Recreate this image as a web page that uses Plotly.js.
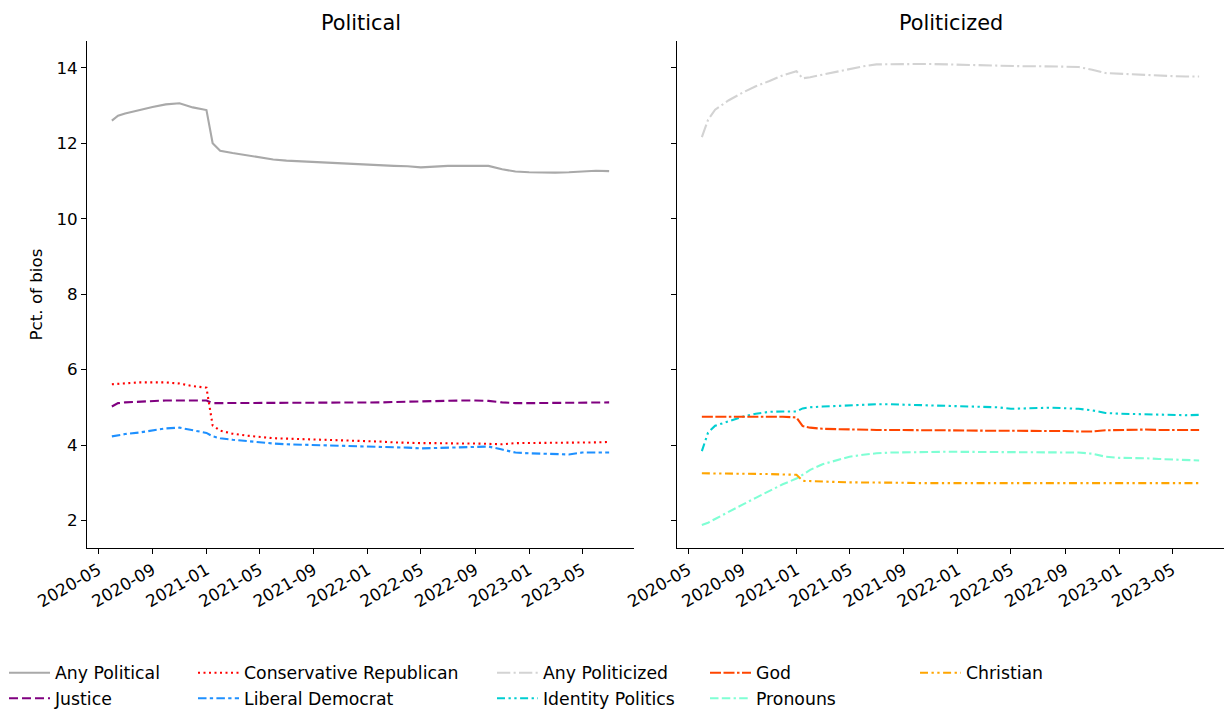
<!DOCTYPE html>
<html>
<head>
<meta charset="utf-8">
<script src="https://cdn.plot.ly/plotly-3.0.1.min.js"></script>
<style>html,body{margin:0;padding:0;background:#fff;}#chart{width:1225px;height:710px;}</style>
</head>
<body>
<div id="chart"></div>
<script>
const dates = ["2020-06-01","2020-06-15","2020-07-01","2020-08-01","2020-09-01","2020-10-01","2020-11-01","2020-12-01","2021-01-01","2021-01-15","2021-02-01","2021-03-01","2021-04-01","2021-05-01","2021-06-01","2021-07-01","2021-08-01","2021-09-01","2021-10-01","2021-11-01","2021-12-01","2022-01-01","2022-02-01","2022-03-01","2022-04-01","2022-05-01","2022-06-01","2022-07-01","2022-08-01","2022-09-01","2022-10-01","2022-11-01","2022-12-01","2023-01-01","2023-02-01","2023-03-01","2023-04-01","2023-05-01","2023-06-01","2023-07-01"];

const anyPolitical = [12.60,12.73,12.79,12.88,12.96,13.03,13.06,12.95,12.88,12.00,11.80,11.74,11.68,11.62,11.57,11.54,11.52,11.51,11.49,11.47,11.46,11.44,11.42,11.40,11.39,11.36,11.38,11.40,11.40,11.40,11.40,11.31,11.25,11.23,11.22,11.22,11.23,11.24,11.27,11.26];
const justice = [5.02,5.11,5.13,5.15,5.17,5.18,5.18,5.18,5.18,5.11,5.11,5.11,5.11,5.11,5.11,5.11,5.11,5.11,5.11,5.11,5.12,5.12,5.13,5.14,5.15,5.15,5.16,5.18,5.18,5.18,5.17,5.13,5.11,5.11,5.11,5.11,5.12,5.12,5.13,5.13];
const consRep = [5.61,5.62,5.64,5.66,5.66,5.66,5.63,5.56,5.52,4.52,4.38,4.30,4.25,4.21,4.18,4.17,4.16,4.15,4.13,4.12,4.11,4.11,4.09,4.07,4.05,4.05,4.05,4.04,4.04,4.04,4.03,4.02,4.05,4.05,4.05,4.06,4.06,4.07,4.07,4.08];
const libDem = [4.23,4.26,4.29,4.33,4.39,4.44,4.46,4.39,4.32,4.23,4.18,4.14,4.10,4.07,4.04,4.02,4.01,4.00,3.99,3.98,3.97,3.96,3.96,3.95,3.93,3.91,3.92,3.94,3.95,3.96,3.96,3.88,3.80,3.78,3.77,3.76,3.75,3.80,3.81,3.80];

const anyPoliticized = [12.16,12.62,12.89,13.14,13.34,13.51,13.65,13.80,13.91,13.72,13.75,13.82,13.90,13.97,14.04,14.09,14.10,14.10,14.10,14.10,14.09,14.08,14.07,14.06,14.06,14.04,14.04,14.04,14.04,14.03,14.02,13.95,13.86,13.84,13.82,13.82,13.80,13.78,13.77,13.77];
const identityPolitics = [3.84,4.33,4.51,4.64,4.75,4.83,4.88,4.89,4.89,4.97,5.00,5.02,5.04,5.05,5.07,5.08,5.08,5.07,5.05,5.04,5.03,5.02,5.01,5.00,5.00,4.96,4.96,4.98,4.99,4.98,4.96,4.92,4.85,4.83,4.82,4.81,4.81,4.80,4.79,4.80];
const god = [4.75,4.75,4.75,4.76,4.76,4.77,4.77,4.75,4.73,4.50,4.46,4.43,4.42,4.41,4.41,4.40,4.40,4.39,4.39,4.39,4.39,4.38,4.38,4.38,4.38,4.38,4.38,4.38,4.37,4.37,4.36,4.36,4.39,4.40,4.41,4.41,4.40,4.40,4.40,4.40];
const pronouns = [1.88,1.94,2.04,2.22,2.42,2.60,2.78,2.96,3.11,3.22,3.34,3.49,3.60,3.69,3.74,3.78,3.80,3.81,3.81,3.81,3.82,3.82,3.82,3.82,3.82,3.81,3.81,3.81,3.81,3.81,3.80,3.77,3.69,3.66,3.66,3.65,3.63,3.62,3.60,3.59];
const christian = [3.25,3.25,3.24,3.24,3.24,3.23,3.23,3.22,3.21,3.05,3.04,3.03,3.02,3.01,3.01,3.01,3.00,3.00,2.99,2.99,2.99,2.99,2.99,2.98,2.98,2.98,2.98,2.98,2.98,2.98,2.97,2.97,2.98,2.98,2.98,2.98,2.98,2.98,2.99,2.99];

const tickVals = ["2020-05-01","2020-09-01","2021-01-01","2021-05-01","2021-09-01","2022-01-01","2022-05-01","2022-09-01","2023-01-01","2023-05-01"];
const tickText = ["2020-05","2020-09","2021-01","2021-05","2021-09","2022-01","2022-05","2022-09","2023-01","2023-05"];
const yTicks = [2,4,6,8,10,12,14];

const FONT = "DejaVu Sans, Verdana, sans-serif";
const FS = 16.7;
const LFS = 17.3;
const TFS = 20.8;
const W = 2.1;

function tr(name, y, color, dash, xa, ya, legend) {
  return {x: dates, y: y, name: name, type: "scatter", mode: "lines",
    line: {color: color, width: W, dash: dash},
    xaxis: xa, yaxis: ya, legend: legend, hoverinfo: "skip"};
}

const traces = [
  tr("Any Political", anyPolitical, "#a9a9a9", "solid", "x", "y", "legend"),
  tr("Justice", justice, "#800080", "9px,4px", "x", "y", "legend"),
  tr("Conservative Republican", consRep, "#ff0000", "2px,3.5px", "x", "y", "legend2"),
  tr("Liberal Democrat", libDem, "#1e90ff", "8.5px,3.3px,3.3px,3.3px", "x", "y", "legend2"),
  tr("Any Politicized", anyPoliticized, "#d3d3d3", "13.3px,3.3px,2.1px,3.3px", "x2", "y2", "legend3"),
  tr("Identity Politics", identityPolitics, "#00ced1", "8px,3.5px,2.3px,3.5px,2.3px,3.5px", "x2", "y2", "legend3"),
  tr("God", god, "#ff4500", "11px,2.5px,11px,2.5px,2.5px,2.5px", "x2", "y2", "legend4"),
  tr("Pronouns", pronouns, "#7fffd4", "8.5px,3.3px,8.5px,3.3px,2.3px,3.3px", "x2", "y2", "legend4"),
  tr("Christian", christian, "#ffa500", "8px,3.5px,2.3px,3.5px,2.3px,3.5px", "x2", "y2", "legend5")
];

const PW = 1137, PH = 507, ML = 87, MT = 41;
function px(xp) { return (xp - ML) / PW; }
function py(yp) { return (MT + PH - yp) / PH; }

const xCommon = {
  type: "date", range: ["2020-04-05 18:00", "2023-08-26 06:00"],
  tickmode: "array", tickvals: tickVals, ticktext: tickText, tickangle: -30,
  ticks: "outside", ticklen: 5, tickwidth: 1, tickcolor: "#000",
  showline: true, linecolor: "#000", linewidth: 1, mirror: false,
  showgrid: false, zeroline: false, fixedrange: true, automargin: false,
  tickfont: {family: FONT, size: FS, color: "#000"}
};
const yCommon = {
  range: [1.27, 14.71], tickmode: "array", tickvals: yTicks,
  ticks: "outside", ticklen: 5, tickwidth: 1, tickcolor: "#000",
  showline: true, linecolor: "#000", linewidth: 1, mirror: false,
  showgrid: false, zeroline: false, fixedrange: true, automargin: false,
  tickfont: {family: FONT, size: FS, color: "#000"}
};

function leg(xp) {
  return {orientation: "v", x: px(xp), y: py(655), xanchor: "left", yanchor: "top",
    bgcolor: "rgba(0,0,0,0)", borderwidth: 0, font: {family: FONT, size: LFS, color: "#000"},
    tracegroupgap: 0, itemwidth: 41};
}

const layout = {
  width: 1225, height: 710,
  margin: {l: ML, r: 1225 - ML - PW, t: MT, b: 710 - MT - PH, pad: 0, autoexpand: false},
  paper_bgcolor: "#fff", plot_bgcolor: "#fff",
  font: {family: FONT, size: FS, color: "#000"},
  showlegend: true,
  xaxis: Object.assign({}, xCommon, {domain: [0, 547 / PW], anchor: "y"}),
  xaxis2: Object.assign({}, xCommon, {domain: [590 / PW, 1], anchor: "y2"}),
  yaxis: Object.assign({}, yCommon, {domain: [0, 1], anchor: "x"}),
  yaxis2: Object.assign({}, yCommon, {domain: [0, 1], anchor: "x2", showticklabels: false}),
  legend: leg(4),
  legend2: leg(193),
  legend3: leg(492),
  legend4: leg(705),
  legend5: leg(915),
  annotations: [
    {text: "Political", xref: "paper", yref: "paper", x: px(360.5), y: py(23), xanchor: "center", yanchor: "middle", showarrow: false, font: {family: FONT, size: TFS, color: "#000"}},
    {text: "Politicized", xref: "paper", yref: "paper", x: px(950.5), y: py(23), xanchor: "center", yanchor: "middle", showarrow: false, font: {family: FONT, size: TFS, color: "#000"}},
    {text: "Pct. of bios", xref: "paper", yref: "paper", x: px(35), y: py(294.5), xanchor: "center", yanchor: "middle", textangle: -90, showarrow: false, font: {family: FONT, size: FS, color: "#000"}}
  ]
};

Plotly.newPlot("chart", traces, layout, {staticPlot: true, displayModeBar: false});
</script>
</body>
</html>
